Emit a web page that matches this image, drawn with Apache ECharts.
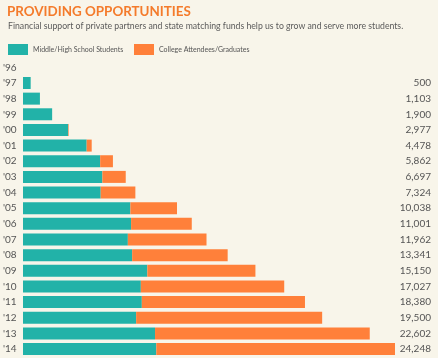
<!DOCTYPE html>
<html>
<head>
<meta charset="utf-8">
<script src="https://cdn.jsdelivr.net/npm/echarts@6/dist/echarts.min.js"></script>
<style>
html,body{margin:0;padding:0;background:#f8f5ea;}
#chart{width:438px;height:358px;}
</style>
</head>
<body>
<div id="chart"></div>
<script>
const years = ["'96","'97","'98","'99","'00","'01","'02","'03","'04","'05","'06","'07","'08","'09","'10","'11","'12","'13","'14"];
const middleHigh = [0,500,1103,1900,2940,4150,5030,5175,5065,7000,7045,6835,7115,8104,7681,7746,7375,8606,8690];
const college =    [0,0,0,0,37,328,832,1522,2259,3038,3956,5127,6226,7046,9346,10634,12125,13996,15558];
const totalLabels = ["","500","1,103","1,900","2,977","4,478","5,862","6,697","7,324","10,038","11,001","11,962","13,341","15,150","17,027","18,380","19,500","22,602","24,248"];
const maxTotal = 24248;

const TEAL = '#22b2a8';
const ORANGE = '#ff803a';
const FONT = 'Lato';

const chart = echarts.init(document.getElementById('chart'));
chart.setOption({
  backgroundColor: '#f8f5ea',
  animation: false,
  textStyle: { fontFamily: FONT },
  title: [
    { text: 'PROVIDING OPPORTUNITIES', left: 2, top: 0,
      textStyle: { fontFamily: FONT, fontWeight: 'bold', fontSize: 13.4, color: '#f47b2b' } },
    { text: 'Financial support of private partners and state matching funds help us to grow and serve more students.', left: 3, top: 17,
      textStyle: { fontFamily: FONT, fontWeight: 'normal', fontSize: 8.7, color: '#5a5a5a' } }
  ],
  legend: [
    { data: ['Middle/High School Students'], left: 3, top: 39, itemWidth: 20, itemHeight: 11, itemGap: 0,
      icon: 'rect', textStyle: { fontFamily: FONT, fontSize: 7, color: '#555' } },
    { data: ['College Attendees/Graduates'], left: 129, top: 39, itemWidth: 20, itemHeight: 11, itemGap: 0,
      icon: 'rect', textStyle: { fontFamily: FONT, fontSize: 7, color: '#555' } }
  ],
  grid: { left: 22.5, width: 372.5, top: 59.5, height: 297.4, containLabel: false },
  xAxis: { type: 'value', min: 0, max: maxTotal, show: false },
  yAxis: [
    { type: 'category', data: years, inverse: true, position: 'left',
      axisLine: { show: false }, axisTick: { show: false }, splitLine: { show: false },
      axisLabel: { align: 'left', margin: 20, fontFamily: FONT, fontSize: 10, color: '#555' } },
    { type: 'category', data: years, inverse: true, position: 'right',
      axisLine: { show: false }, axisTick: { show: false }, splitLine: { show: false },
      axisLabel: { align: 'right', margin: 36, fontFamily: FONT, fontSize: 10, color: '#555',
        formatter: (v, i) => totalLabels[i] } }
  ],
  series: [
    { name: 'Middle/High School Students', type: 'bar', stack: 's', data: middleHigh, barWidth: 12,
      itemStyle: { color: TEAL } },
    { name: 'College Attendees/Graduates', type: 'bar', stack: 's', data: college, barWidth: 12,
      itemStyle: { color: ORANGE } }
  ]
});
</script>
</body>
</html>
